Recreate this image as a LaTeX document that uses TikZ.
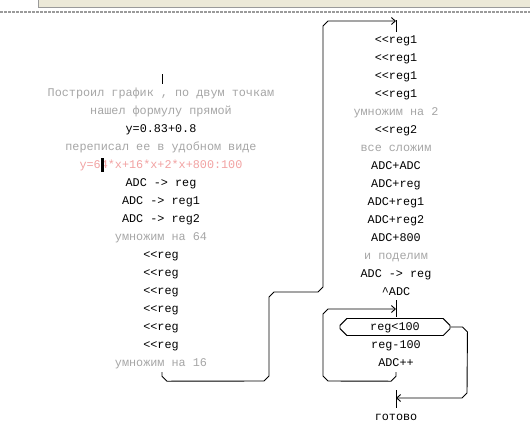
\documentclass[tikz,border=0pt]{standalone}
\usepackage{fontspec}
\usepackage{tikz}
\usetikzlibrary{arrows.meta,calc,shapes.misc}
\newfontfamily\dosfont{Liberation Mono}[Ligatures=TeXOff]
\definecolor{NoteGray}{HTML}{A6A6A6}
\definecolor{FormulaPink}{HTML}{F2A2A2}
\definecolor{BarTint}{HTML}{ECE9D8}
\definecolor{BarRule}{HTML}{9A9A9A}

\begin{document}
\begin{tikzpicture}[
    x=1pt,y=-1pt,
    every node/.style={font=\dosfont\fontsize{11.8}{13}\selectfont,inner sep=0pt,text height=7.5pt,text depth=0.5pt},
    op/.style={text=black},
    note/.style={text=NoteGray},
    formula/.style={text=FormulaPink},
    limit/.style={draw,line width=0.9pt,chamfered rectangle,chamfered rectangle xsep=4pt,minimum width=110pt,minimum height=17pt},
    flow/.style={line width=0.9pt,-{Straight Barb[length=4pt,width=7pt]}},
    entry/.style={line width=0.9pt}
  ]
    \useasboundingbox (0,0) rectangle (530,424);
    \fill[white] (0,0) rectangle (530,424);
    % window bar
    \filldraw[fill=BarTint,draw=BarRule] (38,-2) rectangle (532,7);
    \draw[BarRule,line width=1.5pt,dash pattern=on 3pt off 1pt] (0,12) -- (530,12);

    % left column
    \coordinate (tickAtop) at (162,74);
    \coordinate (tickAbot) at (162,84);
    \node[note] (plot) at (161,93) {Построил график , по двум точкам};
    \node[note] (found) at (161,111) {нашел формулу прямой};
    \node[op] (line) at (161,129) {y=0.83+0.8};
    \node[note] (rewrite) at (161,147) {переписал ее в удобном виде};
    \node[formula] (expr) at (161,165) {y=64*x+16*x+2*x+800:100};
    \node[op] (mov1) at (161,183) {ADC -> reg};
    \node[op] (mov2) at (161,201) {ADC -> reg1};
    \node[op] (mov3) at (161,219) {ADC -> reg2};
    \node[note] (mul64) at (161,237) {умножим на 64};
    \foreach \i in {1,...,6}
      \node[op] (shl\i) at (161,237+18*\i) {<<reg};
    \node[note] (mul16) at (161,363) {умножим на 16};
    \fill (101,158) rectangle (103.5,172);

    % right column
    \coordinate (tickBtop) at (396,20);
    \coordinate (tickBbot) at (396,32);
    \coordinate (inB) at (396,21);
    \foreach \i in {1,...,4}
      \node[op] (shlr\i) at (396,22+18*\i) {<<reg1};
    \node[note] (mul2) at (396,112) {умножим на 2};
    \node[op] (shlr5) at (396,130) {<<reg2};
    \node[note] (sum) at (396,148) {все сложим};
    \node[op] (add1) at (396,166) {ADC+ADC};
    \node[op] (add2) at (396,184) {ADC+reg};
    \node[op] (add3) at (396,202) {ADC+reg1};
    \node[op] (add4) at (396,220) {ADC+reg2};
    \node[op] (add5) at (396,238) {ADC+800};
    \node[note] (div) at (396,256) {и поделим};
    \node[op] (mov4) at (396,274) {ADC -> reg};
    \node[op] (xadc) at (396,292) {\textasciicircum ADC};

    % loop
    \coordinate (tickCtop) at (396,300);
    \coordinate (tickCbot) at (396,317);
    \coordinate (inC) at (396,309);
    \node[limit] (limit) at (395,327) {reg<100};
    \node[op] (sub) at (396,345) {reg-100};
    \node[op] (incr) at (396,363) {ADC++};
    \coordinate (tickDtop) at (396,390);
    \coordinate (tickDbot) at (396,408);
    \coordinate (outD) at (396,398);
    \node[op] (done) at (396,417) {готово};

    % connectors
    \draw[entry] (tickAtop) -- (tickAbot);
    \draw[entry] (tickBtop) -- (tickBbot);
    \draw[entry] (tickCtop) -- (tickCbot);
    \draw[entry] (tickDtop) -- (tickDbot);
    \draw[flow] ([xshift=1pt]mul16.south) ++(0,5) -- ++(0,4) -- ++(5,5) -- (264,381) -- ++(5,-5)
      -- (269,297) -- ++(5,-5) -- (318,292) -- ++(5,-5) -- (323,26) -- ++(5,-5) -- (inB);
    \draw[flow] (incr.south) ++(0,5) -- ++(0,4) -- ++(-5,5) -- (328,381) -- ++(-5,-5)
      -- (323,314) -- ++(5,-5) -- (inC);
    \draw[flow] (limit.east) -- ++(12,0) -- ++(5,5) -- (467,393) -- ++(-5,5) -- (outD);
  \end{tikzpicture}
\end{document}
